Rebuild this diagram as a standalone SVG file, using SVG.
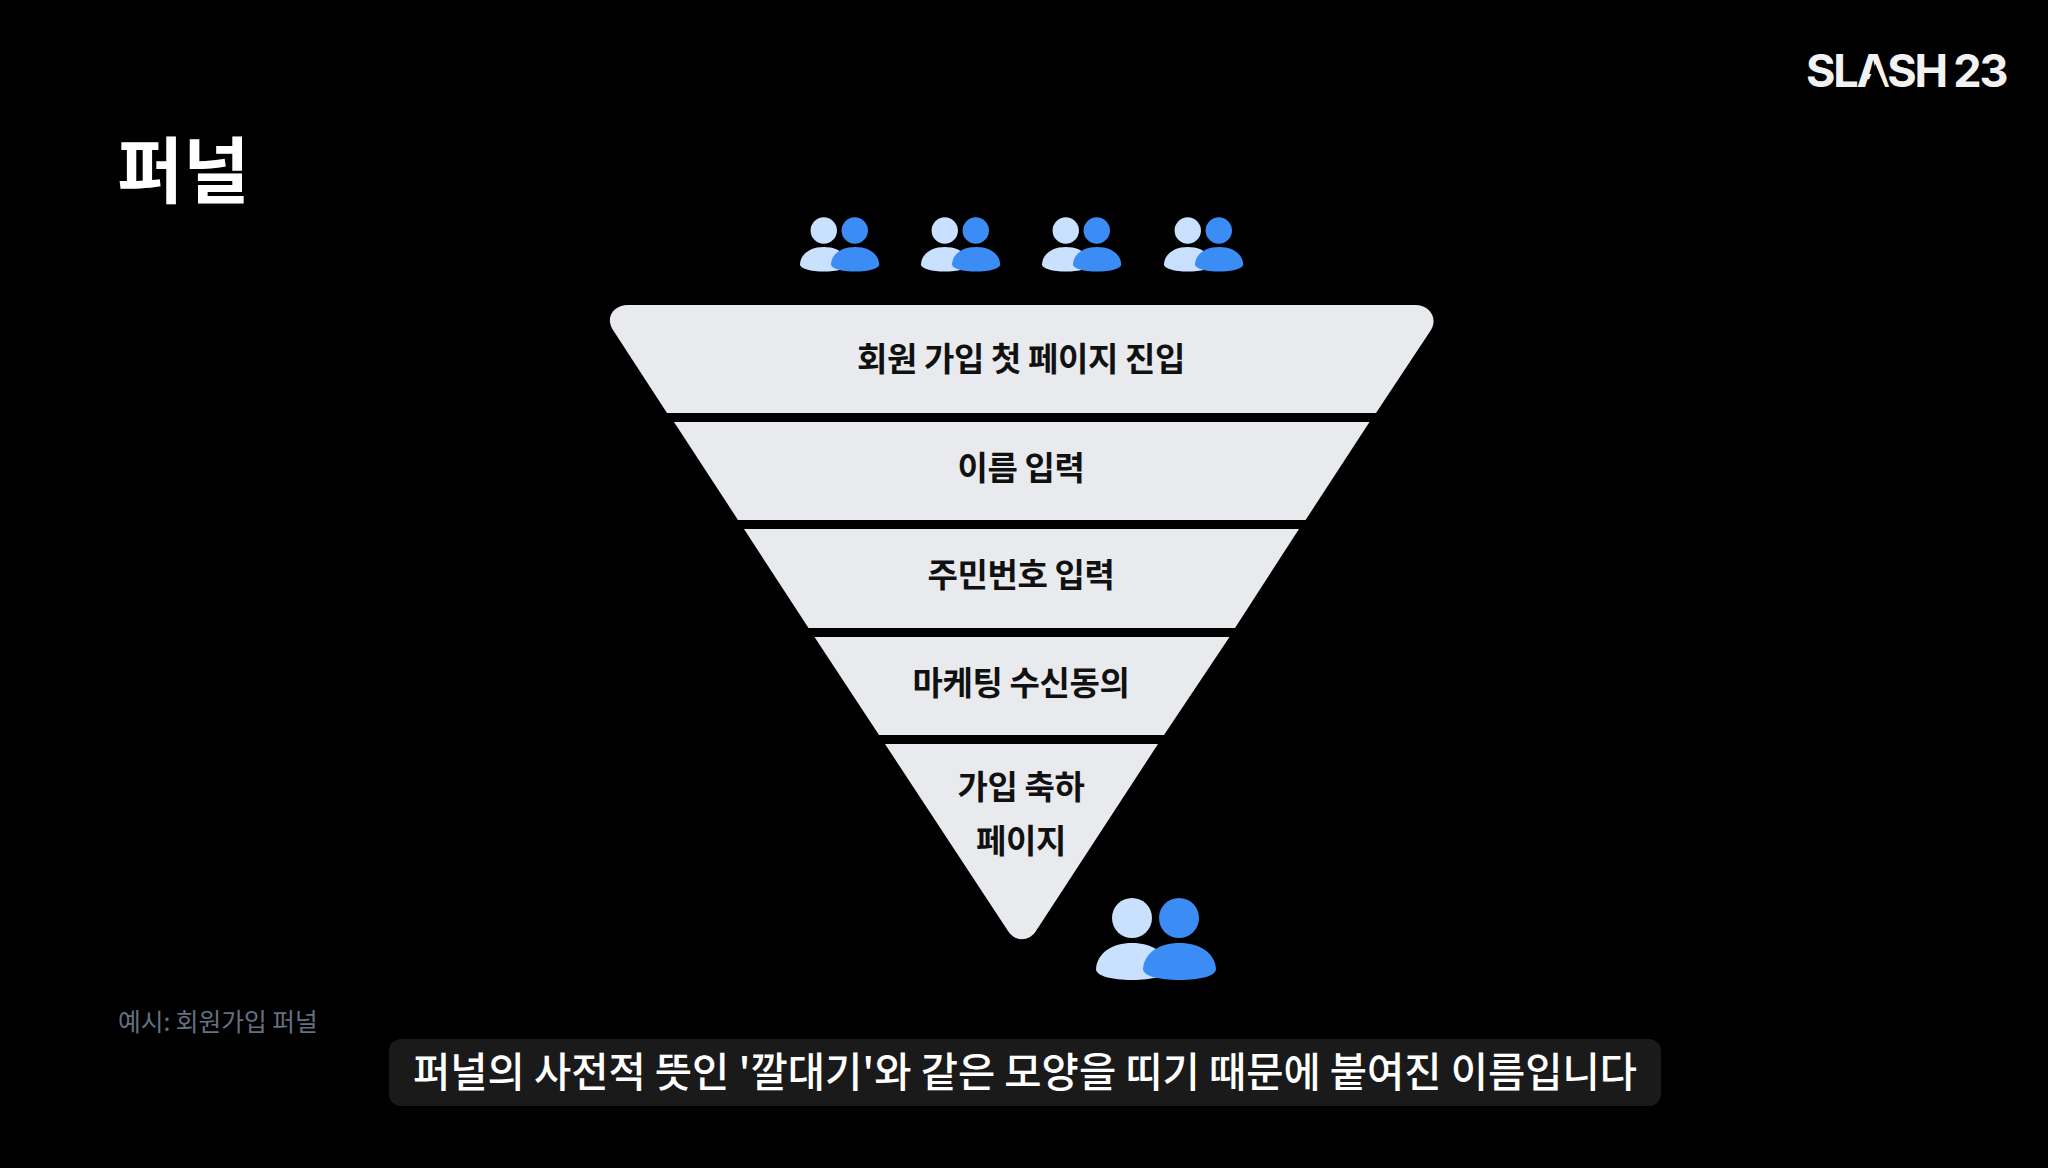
<svg xmlns="http://www.w3.org/2000/svg" xmlns:xlink="http://www.w3.org/1999/xlink" width="2048" height="1168" viewBox="0 0 2048 1168">
<style>
text{font-family:"Noto Sans CJK KR","Noto Sans",sans-serif}
.seg{fill:#e8eaed}
.lbl{font-size:33px;font-weight:700;fill:#111;text-anchor:middle;letter-spacing:-.4px}
.light{fill:#c9e0ff}
.blue{fill:#3b8cf5}
</style>
<defs>
<g id="people">
<circle class="light" cx="1132" cy="918" r="20"/>
<path class="light" d="M1096 969C1097 953 1112 943 1132 943C1152 943 1168 953 1169 969C1169 976 1152 980 1132 980C1112 980 1096 976 1096 969Z"/>
<circle class="blue" cx="1179" cy="918" r="20"/>
<path class="blue" d="M1143 969C1144 953 1159 943 1179.500 943C1200 943 1215 953 1216 969C1216 976 1200 980 1179.500 980C1159 980 1143 976 1143 969Z"/>
</g>
</defs>
<rect width="2048" height="1168" fill="#000"/>
<g id="logo">
<text x="1806" y="87" font-size="45" font-weight="700" fill="#f2f2f2" style="font-family:Inter,'Liberation Sans',sans-serif" letter-spacing="-2.200" word-spacing="-1">SLASH 23</text>
<polygon points="1875.500,64 1865,89 1886,89" fill="#000"/>
</g>
<g id="title"><text x="117" y="197" font-size="72" font-weight="700" fill="#fff">퍼널</text></g>
<g id="users-top">
<use xlink:href="#people" href="#people" transform="translate(800 247) scale(.66) translate(-1096 -943)"/>
<use xlink:href="#people" href="#people" transform="translate(921 247) scale(.66) translate(-1096 -943)"/>
<use xlink:href="#people" href="#people" transform="translate(1042 247) scale(.66) translate(-1096 -943)"/>
<use xlink:href="#people" href="#people" transform="translate(1164 247) scale(.66) translate(-1096 -943)"/>
</g>
<g id="stage-1">
<path class="seg" d="M628 305H1415C1430 305 1438 318 1431 330L1376 413H667L613 330C605 318 613 305 628 305Z"/>
<text class="lbl" x="1021" y="370.500">회원 가입 첫 페이지 진입</text>
</g>
<g id="stage-2">
<path class="seg" d="M674 422H1369.500L1305.600 520H738Z"/>
<text class="lbl" x="1021" y="480">이름 입력</text>
</g>
<g id="stage-3">
<path class="seg" d="M744 529H1299L1235 628H808.500Z"/>
<text class="lbl" x="1021" y="587">주민번호 입력</text>
</g>
<g id="stage-4">
<path class="seg" d="M814.500 637H1229.500L1164 735H879Z"/>
<text class="lbl" x="1021" y="695">마케팅 수신동의</text>
</g>
<g id="stage-5">
<path class="seg" d="M885 744H1158L1036 931C1029 942 1015 942 1008 931Z"/>
<text class="lbl" x="1021" y="798.500">가입 축하</text>
<text class="lbl" x="1021" y="853">페이지</text>
</g>
<g id="users-bottom"><use xlink:href="#people" href="#people"/></g>
<g id="caption"><text x="118" y="1031" font-size="24.700" fill="#667180">예시: 회원가입 퍼널</text></g>
<g id="subtitle">
<rect x="389" y="1039" width="1272" height="67" rx="12" fill="#1a1a1a"/>
<text x="1025" y="1087" font-size="40.500" font-weight="500" fill="#fff" text-anchor="middle">퍼널의 사전적 뜻인 '깔대기'와 같은 모양을 띠기 때문에 붙여진 이름입니다</text>
</g>
</svg>
